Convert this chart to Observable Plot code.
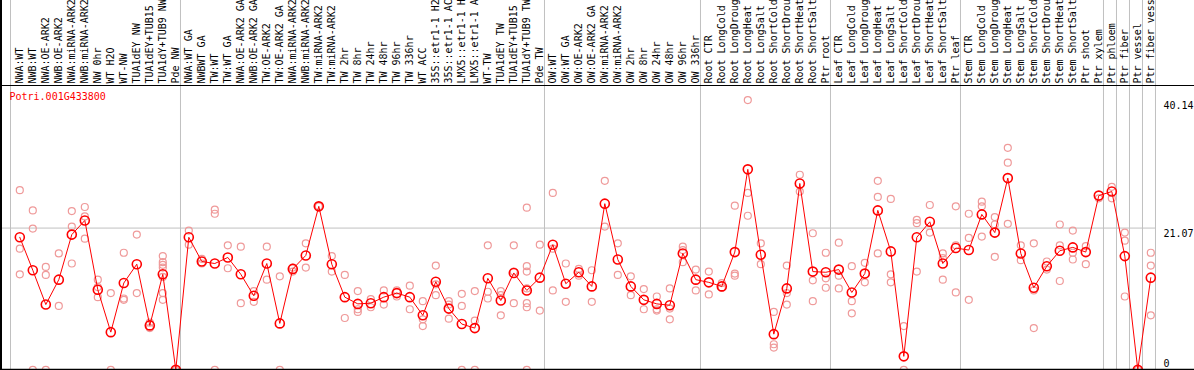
<!DOCTYPE html>
<html><head><meta charset="utf-8">
<script src="https://cdn.jsdelivr.net/npm/d3@7"></script>
<script src="https://cdn.jsdelivr.net/npm/@observablehq/plot@0.6"></script>
<style>body{margin:0;background:#fff} svg{display:block}</style>
</head><body><div id="chart"></div>
<script>
const geneName = "Potri.001G433800";
const categories = [
  "NWA:WT","NWB:WT","NWA:OE-ARK2","NWB:OE-ARK2","NWA:miRNA-ARK2","NWB:miRNA-ARK2","NW 0hr","WT H2O","WT-NW","TUA1dEY NW","TUA1dEY+TUB15","TUA1dY+TUB9 NW","Pde NW",
  "NWA:WT GA","NWBWT GA","TW:WT","TW:WT GA","NWA:OE-ARK2 GA","NWB:OE-ARK2 GA","TW:OE-ARK2","TW:OE-ARK2 GA","NWA:miRNA-ARK2","NWB:miRNA-ARK2","TW:miRNA-ARK2","TW:miRNA-ARK2","TW 2hr","TW 8hr","TW 24hr","TW 48hr","TW 96hr","TW 336hr","WT ACC","35S::etr1-1 H2","35S::etr1-1 AC","LMX5::etr1-1 H","LMX5::etr1-1 A","WT-TW","TUA1dEY TW","TUA1dEY+TUB15","TUA1dY+TUB9 TW","Pde TW",
  "OW:WT","OW:WT GA","OW:OE-ARK2","OW:OE-ARK2 GA","OW:miRNA-ARK2","OW:miRNA-ARK2","OW 2hr","OW 8hr","OW 24hr","OW 48hr","OW 96hr","OW 336hr",
  "Root CTR","Root LongCold","Root LongDroug","Root LongHeat","Root LongSalt","Root ShortCold","Root ShortDrou","Root ShortHeat","Root ShortSalt","Ptr root",
  "Leaf CTR","Leaf LongCold","Leaf LongDroug","Leaf LongHeat","Leaf LongSalt","Leaf ShortCold","Leaf ShortDrou","Leaf ShortHeat","Leaf ShortSalt","Ptr leaf",
  "Stem CTR","Stem LongCold","Stem LongDroug","Stem LongHeat","Stem LongSalt","Stem ShortCold","Stem ShortDrou","Stem ShortHeat","Stem ShortSalt","Ptr shoot","Ptr xylem",
  "Ptr phloem","Ptr fiber","Ptr vessel","Ptr fiber vess"
];
const means = [
  19.7,14.8,9.7,13.4,20.1,22.2,11.9,5.6,12.9,15.7,6.6,14.2,0,
  19.7,16.1,15.8,16.7,14.2,11.0,15.8,6.9,15.0,17.0,24.3,15.7,10.8,9.8,9.9,10.8,11.4,10.8,8.1,13.1,9.1,6.8,6.2,13.6,10.3,14.4,11.8,13.7,
  18.6,12.8,14.5,12.4,24.7,16.4,12.4,10.4,9.8,9.6,17.3,13.4,
  13.0,12.4,17.5,29.8,17.1,5.3,12.1,27.7,14.6,14.5,
  14.9,11.5,14.3,23.7,17.6,2.0,19.7,22.0,15.8,18.1,
  17.8,23.1,20.4,28.5,17.3,12.2,15.4,17.7,18.2,17.5,25.9,
  26.5,16.9,0,13.7
];
const replicates = [
  [26.7,18.0,14.2],[23.7,21.0,0],[15.3,14.1,0],[17.3,9.5],[23.6,21.3,15.8],[24.2,22.8,19.5],[13.4,12.3,10.8],[11.4,0],[17.4,10.6,10.4],[20.1,11.4],[7.0,6.2],[16.9,16.0,15.6,15.2,13.8,11.4,10.4],[0,0],
  [20.7,18.6],[16.5,15.8],[23.8,23.2,0],[18.5,15.1],[18.3,9.9],[11.7,10.1],[18.3,13.4],[13.9,0],[15.2,14.6],[18.8,15.2],[24.3],[16.9,14.6],[14.1,7.7],[11.7,9.0,8.6],[10.5,9.3],[11.8,9.7],[11.8,10.9],[12.5,9.0],[10.2,7.5,6.5],[15.5,12.7,11.1],[10.2,9.7,7.6],[11.3,9.5,0],[11.7,7.3,0],[18.5,11.6,10.6],[11.7,11.1,8.1],[18.5,14.6,9.9],[24.1,15.4,14.6,12.1,9.9,9.3,0],[18.6,8.8],
  [26.3,18.0,11.8],[15.8,10.1],[15.0,14.0],[14.8,10.1],[28.1,21.3],[18.8,14.1],[13.9,11.1],[12.0,9.0],[10.9,9.0,8.8],[12.1,9.1,7.5],[18.3,17.8,16.0],[14.9,11.8],
  [14.6,11.2],[12.9,12.2],[24.4,14.3,14.0],[40.1,26.3,22.9],[18.8,15.7],[8.6,3.8,3.3],[15.5,11.4,9.7],[29.0,26.5],[20.3,13.3,10.2],[17.4,13.6,12.2],
  [18.9,14.0,12.1],[15.4,10.2,8.4],[15.9,13.0],[28.1,25.7,17.3],[25.4,14.2,13.0],[6.5,0],[22.3,21.8,14.6],[24.5,20.4],[17.3,16.6,13.4],[24.3,18.5,11.5],
  [23.2,19.6,10.4],[25.0,24.3,19.8],[22.7,21.6,16.8],[33.0,30.8,21.7],[18.5,16.3],[18.8,11.8,6.2],[16.1,14.9],[21.6,18.5,13.2],[20.7,17.4,16.4],[18.4,15.7],[25.5],
  [27.2,25.5],[20.4,19.2,10.9],[0],[17.4,15.5,8.1]
];
const yTicksTop = [40.14, 21.07];
const yTicksBottom = [0];
const gridY = [21.07];
const groupEnds = [12, 40, 52, 62, 72, 83, 84, 85, 86, 87];
const firstGroupStart = 0;

const repRows = replicates.flatMap((vals, i) => vals.map(v => ({i, v})));
const meanRows = means.map((v, i) => ({i, v}));
const separators = [firstGroupStart - 0.715, ...groupEnds.map(e => e + 0.36)];

const chart = Plot.plot({
  width: 1194, height: 370,
  marginTop: 85, marginBottom: 1, marginLeft: 0, marginRight: 0,
  style: {fontFamily: "'DejaVu Sans Mono', monospace", fontSize: "10px", background: "#fff", overflow: "hidden"},
  x: {type: "linear", domain: [0, 87], range: [19.3, 1150.3], axis: null},
  y: {type: "linear", domain: [0, 40.14], range: [369.3, 99.3], axis: null},
  marks: [
    Plot.ruleX(separators, {stroke: "#c0c0c0", strokeWidth: 1, insetTop: -85}),
    Plot.ruleY(gridY, {stroke: "#c0c0c0", strokeWidth: 1, insetRight: 39}),
    Plot.dot(repRows, {x: "i", y: "v", r: 3.5, stroke: "#ef9a9a", strokeWidth: 1.2}),
    Plot.line(meanRows, {x: "i", y: "v", stroke: "#ff0000", strokeWidth: 1}),
    Plot.dot(meanRows, {x: "i", y: "v", r: 4.5, stroke: "#ff0000", strokeWidth: 1.6}),
    Plot.text(categories, {x: (d, i) => i, text: d => d, frameAnchor: "top", dy: -2, rotate: -90, textAnchor: "start", lineAnchor: "middle", fill: "#000"}),
    Plot.text([geneName], {frameAnchor: "top-left", dx: 9, dy: 7, textAnchor: "start", lineAnchor: "top", fill: "#ff0000"}),
    Plot.text(yTicksTop, {y: d => d, text: d => String(d), frameAnchor: "right", textAnchor: "start", dx: -31, lineAnchor: "top", dy: 2, fill: "#000"}),
    Plot.text(yTicksBottom, {y: d => d, text: d => String(d), frameAnchor: "right", textAnchor: "start", dx: -31, lineAnchor: "bottom", dy: -3, fill: "#000"}),
    Plot.frame({anchor: "left", stroke: "#000", strokeWidth: 3, insetTop: -85}),
    Plot.frame({anchor: "top", stroke: "#000", strokeWidth: 1}),
    Plot.frame({anchor: "bottom", stroke: "#000", strokeWidth: 1.5})
  ]
});
document.getElementById("chart").appendChild(chart);
</script>
</body></html>
